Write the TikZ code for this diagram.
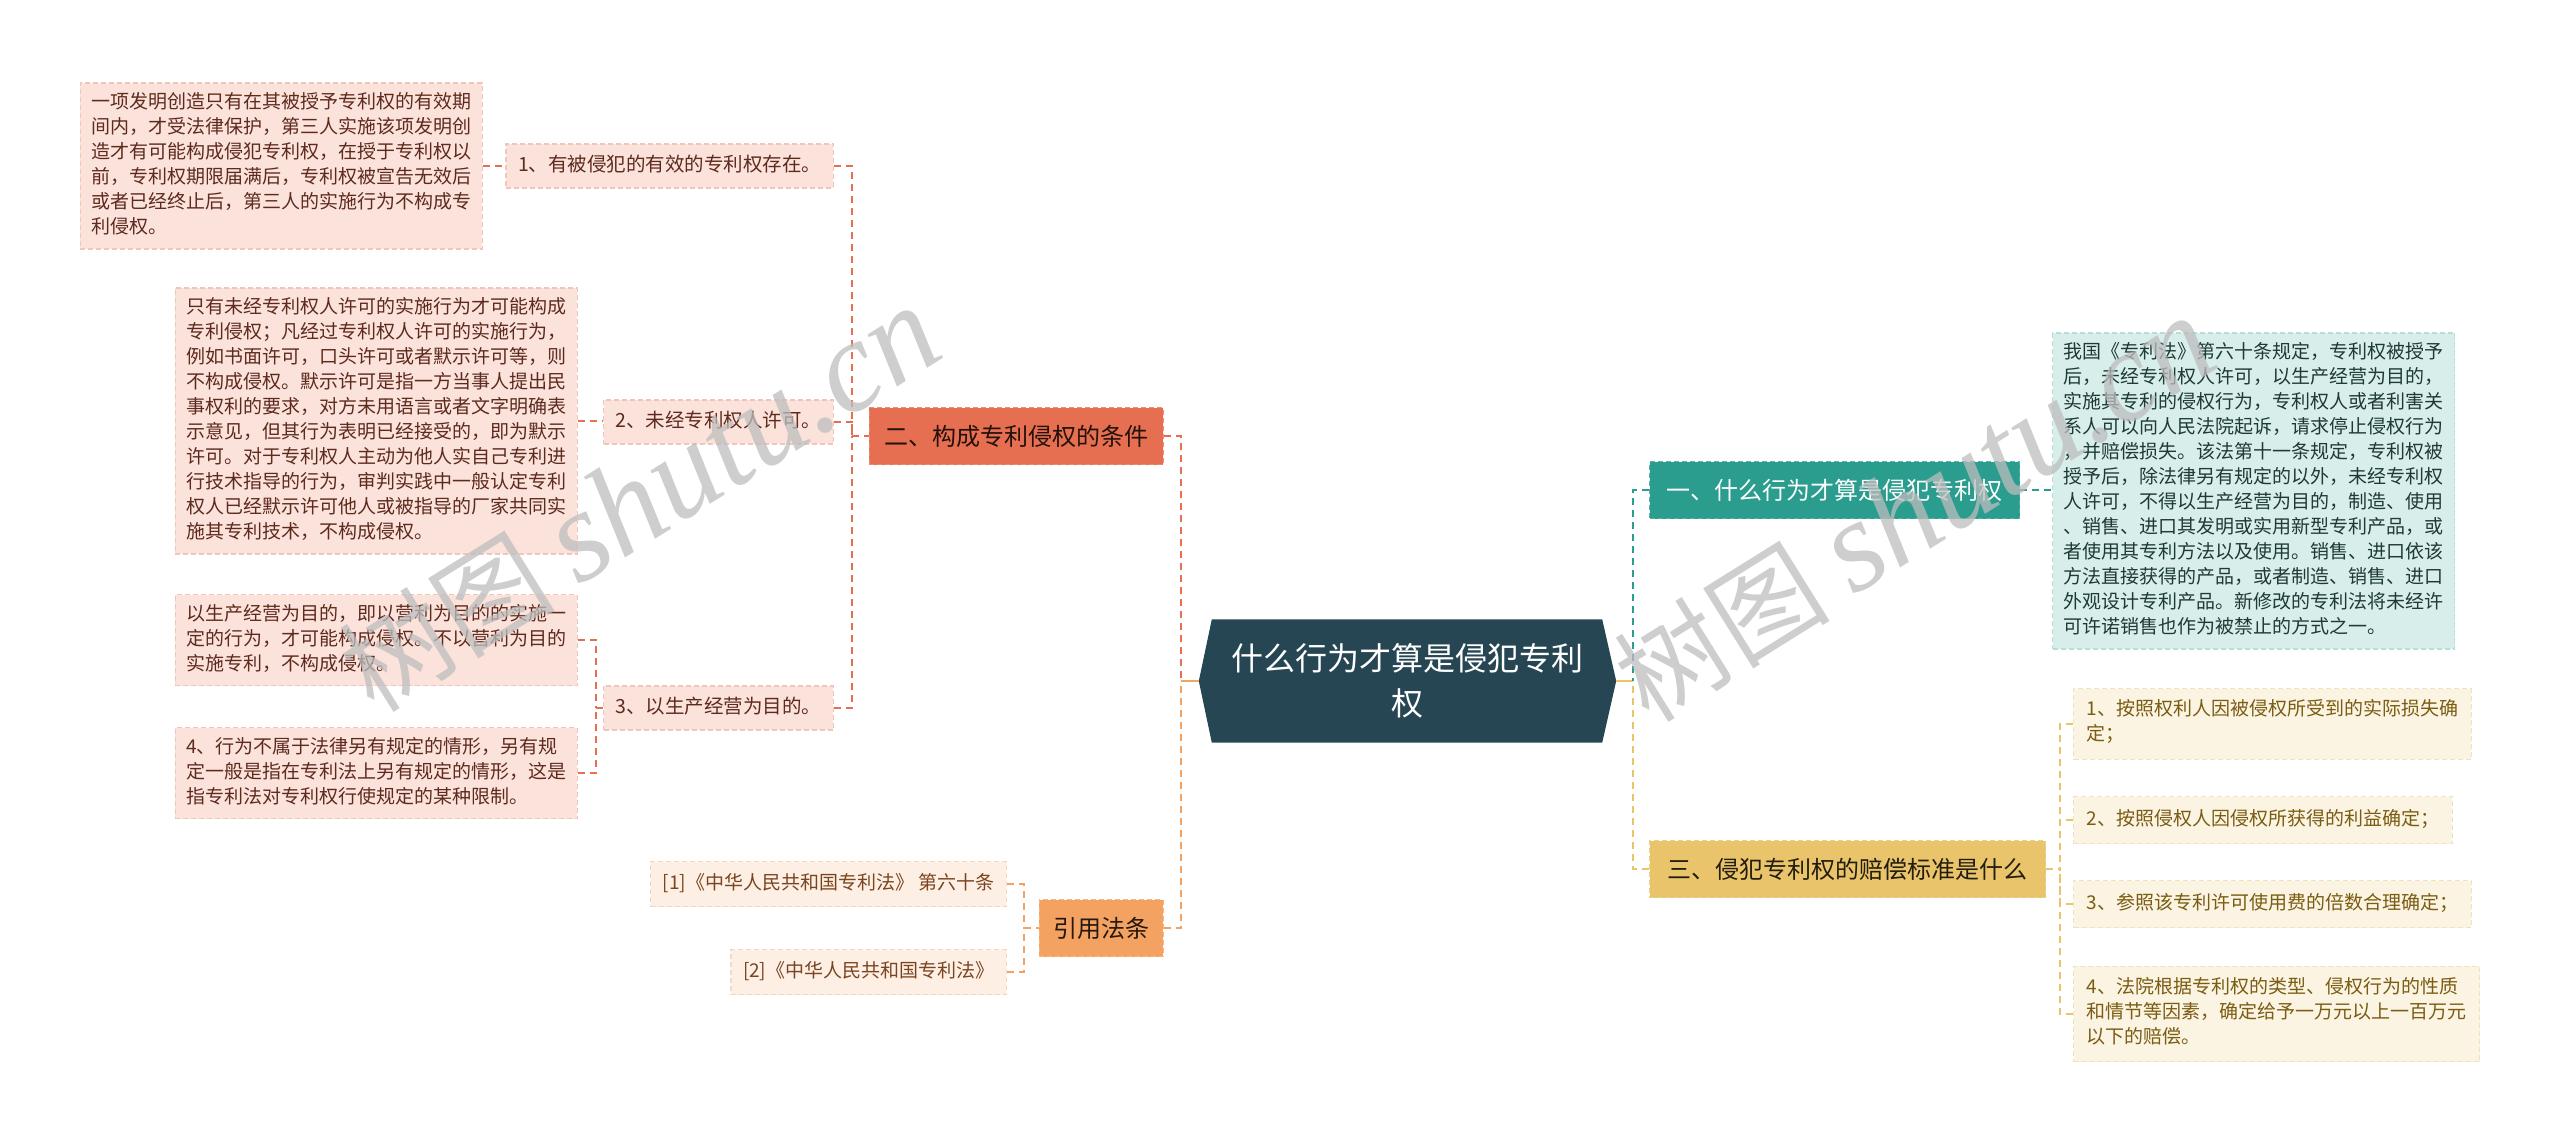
\documentclass[tikz,border=0pt]{standalone}
\usepackage{fontspec}
\setmainfont{Noto Sans CJK SC}
\newfontfamily\wmserif{Liberation Serif}
\usetikzlibrary{backgrounds}
\definecolor{rootc}{HTML}{264653}
\definecolor{ctwo}{HTML}{E76F51}
\definecolor{cfour}{HTML}{F4A261}
\definecolor{cone}{HTML}{2A9D8F}
\definecolor{cthree}{HTML}{E9C46A}
\definecolor{pinkfill}{HTML}{FBE3DC}
\definecolor{pinkline}{HTML}{F1C6BA}
\definecolor{pinktext}{HTML}{5E2A1E}
\definecolor{peachfill}{HTML}{FDEFE3}
\definecolor{peachline}{HTML}{F6D6BC}
\definecolor{peachtext}{HTML}{7A4420}
\definecolor{tealfill}{HTML}{D8EEEB}
\definecolor{tealline}{HTML}{B6DDD7}
\definecolor{tealtext}{HTML}{1E3A36}
\definecolor{creamfill}{HTML}{FBF4E2}
\definecolor{creamline}{HTML}{F0E2BC}
\definecolor{creamtext}{HTML}{7A5C12}
\definecolor{wmgray}{HTML}{BDBDBD}
\tikzset{
  base/.style={font=\fontsize{19}{25}\selectfont, align=left, execute at begin node={\strut}, execute at end node={\strut}},
  boxline/.style={draw=#1, dash pattern=on 5pt off 3pt, line width=1.2pt},
  ltext/.style={base, fill=pinkfill, boxline=pinkline, text=pinktext, text width=380pt, inner xsep=11pt, inner ysep=8pt, anchor=east},
  lsub/.style={base, font=\fontsize{19.5}{25}\selectfont, fill=pinkfill, boxline=pinkline, text=pinktext, inner xsep=12pt, inner ysep=9.5pt, anchor=east},
  refbox/.style={base, fill=peachfill, boxline=peachline, text=peachtext, inner xsep=12pt, inner ysep=10pt, anchor=east},
  rtext/.style={base, fill=tealfill, boxline=tealline, text=tealtext, text width=380pt, inner xsep=11pt, inner ysep=8pt, anchor=west},
  rsub/.style={base, fill=creamfill, boxline=creamline, text=creamtext, inner xsep=13pt, inner ysep=11pt, anchor=west},
  branch/.style={font=\fontsize{24}{28}\selectfont, minimum height=57pt, inner ysep=0pt, boxline=#1!80!white},
  con/.style={draw=#1, line width=2pt, dash pattern=on 7pt off 5pt},
  solidcon/.style={draw=#1, line width=2.5pt},
  wm/.style={text=wmgray, opacity=0.75, font=\fontsize{108}{118}\selectfont, inner sep=0pt}
}
\begin{document}
\begin{tikzpicture}[x=1pt, y=-1pt]
\useasboundingbox (0,0) rectangle (2560,1143);

% root
\node[minimum width=390pt, minimum height=123pt, inner sep=0pt, text=white, align=center, font=\fontsize{32}{45}\selectfont] (root) at (1407,681) {什么行为才算是侵犯专利\\权};
\begin{scope}[on background layer]
\fill[rootc] (root.north west) -- (root.north east) -- ([xshift=14pt]root.east) -- (root.south east) -- (root.south west) -- ([xshift=-13pt]root.west) -- cycle;
\end{scope}
\coordinate (rootL) at ([xshift=-13pt]root.west);
\coordinate (rootR) at ([xshift=14pt]root.east);

% junctions
\coordinate (jL) at (1181,681);
\coordinate (jR) at (1633,681);
\coordinate (j2) at (852,436);
\coordinate (j3) at (596,708);
\coordinate (j4) at (1024,928);
\coordinate (j5) at (2060,869);

% left branches
\node[branch=ctwo, fill=ctwo, text=black!85!ctwo, inner xsep=15pt, anchor=east] (b2) at (1164,436) {二、构成专利侵权的条件};
\node[branch=cfour, fill=cfour, text=black!85!cfour, inner xsep=14pt, anchor=east] (b4) at (1164,928) {引用法条};

\node[lsub] (s1) at (834,166) {1、有被侵犯的有效的专利权存在。};
\node[lsub] (s2) at (834,422) {2、未经专利权人许可。};
\node[lsub] (s3) at (834,708) {3、以生产经营为目的。};

\node[ltext] (t1) at (483,166) {一项发明创造只有在其被授予专利权的有效期\\间内，才受法律保护，第三人实施该项发明创\\造才有可能构成侵犯专利权，在授于专利权以\\前，专利权期限届满后，专利权被宣告无效后\\或者已经终止后，第三人的实施行为不构成专\\利侵权。};
\node[ltext] (t2) at (578,421) {只有未经专利权人许可的实施行为才可能构成\\专利侵权；凡经过专利权人许可的实施行为，\\例如书面许可，口头许可或者默示许可等，则\\不构成侵权。默示许可是指一方当事人提出民\\事权利的要求，对方未用语言或者文字明确表\\示意见，但其行为表明已经接受的，即为默示\\许可。对于专利权人主动为他人实自己专利进\\行技术指导的行为，审判实践中一般认定专利\\权人已经默示许可他人或被指导的厂家共同实\\施其专利技术，不构成侵权。};
\node[ltext] (t3) at (578,640) {以生产经营为目的，即以营利为目的的实施一\\定的行为，才可能构成侵权。不以营利为目的\\实施专利，不构成侵权。};
\node[ltext] (t4) at (578,773) {4、行为不属于法律另有规定的情形，另有规\\定一般是指在专利法上另有规定的情形，这是\\指专利法对专利权行使规定的某种限制。};

\node[refbox] (r1) at (1007,884) {[1]《中华人民共和国专利法》 第六十条};
\node[refbox] (r2) at (1007,972) {[2]《中华人民共和国专利法》};

% right branches
\node[branch=cone, fill=cone, text=white, inner xsep=17pt, anchor=west] (b1) at (1649,490) {一、什么行为才算是侵犯专利权};
\node[branch=cthree, fill=cthree, text=black!85!cthree, inner xsep=18pt, anchor=west] (b3) at (1649,869) {三、侵犯专利权的赔偿标准是什么};

\node[rtext] (rt) at (2052,491) {我国《专利法》第六十条规定，专利权被授予\\后，未经专利权人许可，以生产经营为目的，\\实施其专利的侵权行为，专利权人或者利害关\\系人可以向人民法院起诉，请求停止侵权行为\\，并赔偿损失。该法第十一条规定，专利权被\\授予后，除法律另有规定的以外，未经专利权\\人许可，不得以生产经营为目的，制造、使用\\、销售、进口其发明或实用新型专利产品，或\\者使用其专利方法以及使用。销售、进口依该\\方法直接获得的产品，或者制造、销售、进口\\外观设计专利产品。新修改的专利法将未经许\\可许诺销售也作为被禁止的方式之一。};

\node[rsub] (c1) at (2073,724) {1、按照权利人因被侵权所受到的实际损失确\\定；};
\node[rsub] (c2) at (2073,820) {2、按照侵权人因侵权所获得的利益确定；};
\node[rsub] (c3) at (2073,904) {3、参照该专利许可使用费的倍数合理确定；};
\node[rsub] (c4) at (2073,1014) {4、法院根据专利权的类型、侵权行为的性质\\和情节等因素，确定给予一万元以上一百万元\\以下的赔偿。};

% connectors
\begin{scope}[on background layer]
\draw[solidcon=cfour] (jL) -- (rootL);
\draw[solidcon=cthree] (rootR) -- (jR);
\draw[con=ctwo] (b2.east) -| (jL);
\draw[con=cfour] (b4.east) -| (jL);
\draw[con=ctwo] (s1.east) -| (j2);
\draw[con=ctwo] (s2.east) -| (j2);
\draw[con=ctwo] (s3.east) -| (j2);
\draw[con=ctwo] (j2) -- (b2.west);
\draw[con=ctwo] (t1.east) -- (s1.west);
\draw[con=ctwo] (t2.east) -- (s2.west |- t2.east);
\draw[con=ctwo] (t3.east) -| (j3);
\draw[con=ctwo] (t4.east) -| (j3);
\draw[con=ctwo] (j3) -- (s3.west);
\draw[con=cfour] (r1.east) -| (j4);
\draw[con=cfour] (r2.east) -| (j4);
\draw[con=cfour] (j4) -- (b4.west);
\draw[con=cone] (b1.west) -| (jR);
\draw[con=cthree] (b3.west) -| (jR);
\draw[con=cone] (b1.east) -- (rt.west |- b1.east);
\draw[con=cthree] (b3.east) -- (j5);
\draw[con=cthree] (c1.west) -| (j5);
\draw[con=cthree] (c2.west) -| (j5);
\draw[con=cthree] (c3.west) -| (j5);
\draw[con=cthree] (c4.west) -| (j5);
\end{scope}

% watermarks
\node[wm, rotate=32] (wm1) at (640,500) {树图 {\wmserif\itshape\fontsize{130}{140}\selectfont shutu.cn}};
\node[wm, rotate=32] (wm2) at (1915,510) {树图 {\wmserif\itshape\fontsize{130}{140}\selectfont shutu.cn}};
\end{tikzpicture}
\end{document}
